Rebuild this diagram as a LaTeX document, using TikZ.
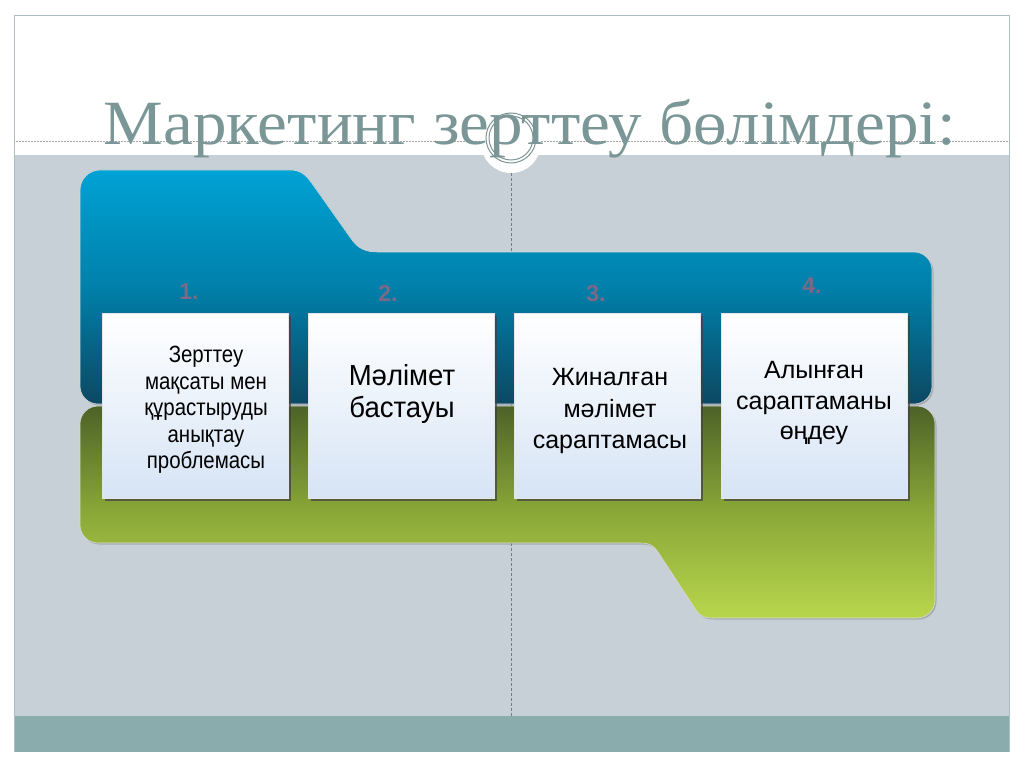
\documentclass[tikz,border=0pt]{standalone}
\usepackage{fontspec}
\setmainfont{Liberation Sans}
\newfontfamily\titlefont[FakeStretch=1.065]{Liberation Serif}
\newfontfamily\condfont[FakeStretch=0.87]{Liberation Sans}
\newfontfamily\semicondfont[FakeStretch=0.95]{Liberation Sans}
\usetikzlibrary{shadows}
\definecolor{bandgray}{RGB}{198,208,214}
\definecolor{bandteal}{RGB}{138,172,172}
\definecolor{framec}{RGB}{170,190,196}
\definecolor{titlec}{RGB}{122,150,150}
\definecolor{ringc}{RGB}{125,148,148}
\definecolor{dashc}{RGB}{110,125,135}
\definecolor{bluetop}{RGB}{0,162,212}
\definecolor{bluemid}{RGB}{0,128,170}
\definecolor{bluebot}{RGB}{12,72,98}
\definecolor{greentop}{RGB}{76,98,40}
\definecolor{greenmid}{RGB}{138,168,56}
\definecolor{greenbot}{RGB}{184,214,76}
\definecolor{numc}{RGB}{125,105,135}
\definecolor{boxbot}{RGB}{214,228,245}
\tikzset{
  stepbox/.style={draw=white!80!gray, line width=0.6pt, top color=white, bottom color=boxbot,
    minimum width=186pt, minimum height=185pt, inner sep=0pt,
    drop shadow={shadow xshift=2.5pt, shadow yshift=-2.5pt, opacity=0.7, fill=black!75}},
  numlabel/.style={font=\fontsize{23}{25}\selectfont\bfseries, text=numc},
  boxtext/.style={align=center, text=black, inner sep=0pt},
  shapeshadow/.style={drop shadow={shadow xshift=1.5pt, shadow yshift=-1.5pt, opacity=0.35, fill=black!60}}
}
\begin{document}
\begin{tikzpicture}[x=1pt,y=-1pt]
\useasboundingbox (0,0) rectangle (1024,767);
\fill[white] (0,0) rectangle (1024,767);
% frame
\fill[bandgray] (14,155) rectangle (1009,716);
\fill[bandteal] (14,716) rectangle (1009,752);
\draw[framec, line width=0.8pt] (14,752) -- (14,15) -- (1009,15) -- (1009,752);
\draw[gray!70, densely dotted, line width=0.5pt] (14,141.5) -- (1009,141.5);
% ornament
\fill[white] (511,143) circle (30);
\coordinate (dtop) at (511,173);
\coordinate (dbot) at (511,716);
\draw[dashc, dashed, dash pattern=on 3pt off 2pt, line width=0.5pt] (dtop) -- (dbot);
% title
\node[anchor=base, text=titlec, inner sep=0pt] (title) at (530,145)
  {\titlefont\fontsize{63}{70}\selectfont Маркетинг зерттеу бөлімдері:};
\draw[ringc, line width=1pt] (511,138) circle (25);
\draw[ringc, line width=1pt] (511,138) circle (22);
% green shape
\path[shapeshadow, top color=greentop, bottom color=greenbot, middle color=greenmid, draw=white!70!gray, line width=0.6pt]
  (80,424) arc[start angle=180, end angle=270, radius=18] -- (917,406)
  arc[start angle=270, end angle=360, radius=18] -- (935,600)
  arc[start angle=0, end angle=90, radius=18] -- (712,618)
  .. controls (700,618) and (697,612) .. (692,604)
  -- (658,552)
  .. controls (654,546) and (650,543) .. (640,543)
  -- (98,543)
  arc[start angle=90, end angle=180, radius=18] -- cycle;
% blue shape
\path[shapeshadow, top color=bluetop, bottom color=bluebot, middle color=bluemid, draw=white!70!gray, line width=0.6pt]
  (80,190) arc[start angle=180, end angle=270, radius=20] -- (290,170)
  .. controls (300,170) and (305,174) .. (311,182)
  -- (352,240)
  .. controls (358,248) and (365,252) .. (378,252)
  -- (914,252)
  arc[start angle=270, end angle=360, radius=18] -- (932,386)
  arc[start angle=0, end angle=90, radius=18] -- (98,404)
  arc[start angle=90, end angle=180, radius=18] -- cycle;
% numbers
\node[numlabel] (n1) at (189,292) {1.};
\node[numlabel] (n2) at (388,293) {2.};
\node[numlabel] (n3) at (596,294) {3.};
\node[numlabel] (n4) at (812,286) {4.};
% boxes
\node[stepbox] (b1) at (195,405.5) {};
\node[stepbox] (b2) at (401.5,405.5) {};
\node[stepbox] (b3) at (607.5,405.5) {};
\node[stepbox] (b4) at (814.5,405.5) {};
% box texts
\node[boxtext, font=\condfont\fontsize{23.5}{26.5}\selectfont] (t1) at (206,410)
  {Зерттеу\\мақсаты мен\\құрастыруды\\анықтау\\проблемасы};
\node[boxtext, font=\semicondfont\fontsize{29}{32}\selectfont] (t2) at (402,394)
  {Мәлімет\\бастауы};
\node[boxtext, font=\fontsize{25}{31.5}\selectfont] (t3) at (610,411)
  {Жиналған\\мәлімет\\сараптамасы};
\node[boxtext, font=\fontsize{25}{30.5}\selectfont] (t4) at (814,403)
  {Алынған\\сараптаманы\\өңдеу};
\end{tikzpicture}
\end{document}
